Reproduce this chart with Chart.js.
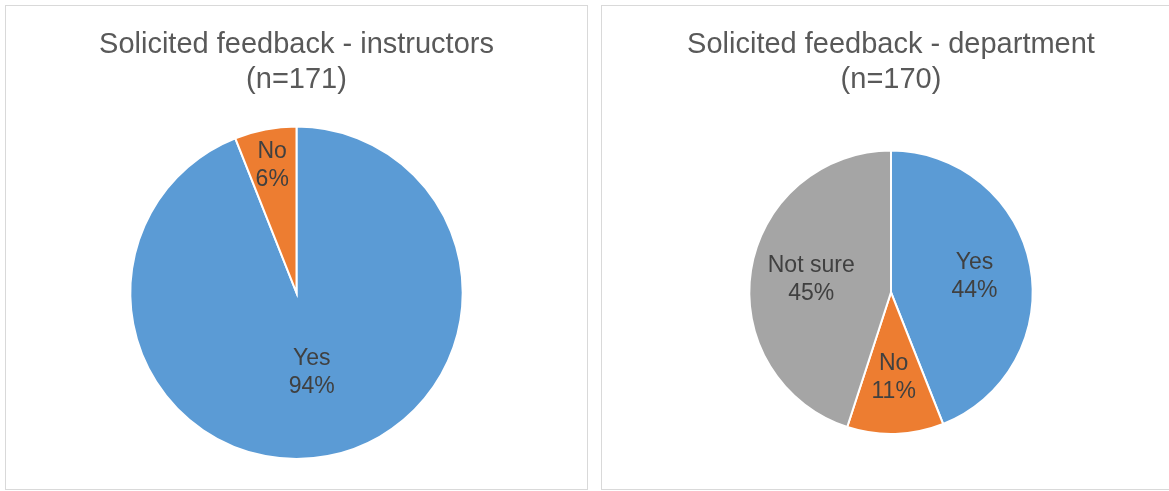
<!DOCTYPE html>
<html>
<head>
<meta charset="utf-8">
<script src="https://cdn.jsdelivr.net/npm/chart.js@4"></script>
<style>
    body { margin: 0; background: #ffffff; width: 1169px; height: 491px; overflow: hidden; position: relative; }
    .panel { position: absolute; top: 5px; width: 583px; height: 485px; box-sizing: border-box; border: 1px solid #d9d9d9; background: #fff; }
    .panel canvas { display: block; }
</style>
</head>
<body>
<div class="panel" style="left:5px"><canvas id="instructors-chart" width="581" height="483"></canvas></div>
<div class="panel" style="left:601px"><canvas id="department-chart" width="581" height="483"></canvas></div>
<script>
// Data
const instructorLabels = ['Yes', 'No'];
const instructorValues = [94, 6];
const departmentLabels = ['Yes', 'No', 'Not sure'];
const departmentValues = [44, 11, 45];

const sliceColors = ['#5b9bd5', '#ed7d31', '#a5a5a5'];
const fontFamily = '"Liberation Sans", Arial, sans-serif';

// Draws "label\nvalue%" inside each slice
const sliceLabels = {
    id: 'sliceLabels',
    afterDatasetsDraw(chart, args, opts) {
        const ctx = chart.ctx;
        const meta = chart.getDatasetMeta(0);
        const labels = chart.data.labels;
        const values = chart.data.datasets[0].data;
        ctx.save();
        ctx.font = '23px ' + fontFamily;
        ctx.fillStyle = '#404040';
        ctx.textAlign = 'center';
        ctx.textBaseline = 'middle';
        meta.data.forEach((arc, i) => {
            const mid = (arc.startAngle + arc.endAngle) / 2;
            const r = arc.outerRadius * (opts.radius[i] || 0.6);
            const x = arc.x + Math.cos(mid) * r;
            const y = arc.y + Math.sin(mid) * r;
            ctx.fillText(labels[i], x, y - 14);
            ctx.fillText(values[i] + '%', x, y + 14);
        });
        ctx.restore();
    }
};

const makePie = (id, labels, values, title, titleBottom, pad, radius) => {
    const canvas = document.getElementById(id);
    if (!canvas) return;
    new Chart(canvas.getContext('2d'), {
        type: 'pie',
        data: {
            labels: labels,
            datasets: [{
                data: values,
                backgroundColor: sliceColors.slice(0, values.length),
                borderColor: '#ffffff',
                borderWidth: 2,
                borderJoinStyle: 'miter'
            }]
        },
        options: {
            responsive: false,
            animation: false,
            layout: { padding: pad },
            plugins: {
                legend: { display: false },
                tooltip: { enabled: false },
                title: {
                    display: true,
                    text: title,
                    color: '#595959',
                    font: { family: fontFamily, size: 29, weight: 'normal', lineHeight: 1.2 },
                    padding: { top: 22, bottom: titleBottom }
                },
                sliceLabels: { radius: radius }
            }
        },
        plugins: [sliceLabels]
    });
};

makePie('instructors-chart', instructorLabels, instructorValues,
    ['Solicited feedback - instructors', '(n=171)'], 28, { bottom: 29 }, [0.49, 0.78]);
makePie('department-chart', departmentLabels, departmentValues,
    ['Solicited feedback - department', '(n=170)'], 52, { bottom: 54, right: 3 }, [0.6, 0.6, 0.57]);
</script>
</body>
</html>
